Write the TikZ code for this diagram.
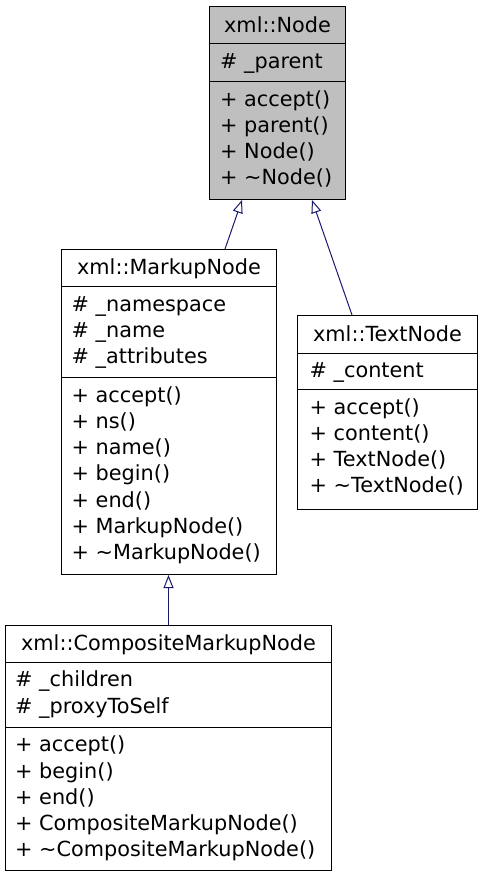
\documentclass[tikz,border=0pt]{standalone}
\usepackage{fontspec}
\setmainfont{DejaVu Sans}
\usetikzlibrary{arrows.meta,calc}
\definecolor{nodegrey}{HTML}{BFBFBF}
\definecolor{edgeblue}{HTML}{191970}
\newcommand\tld{\textasciitilde}
\begin{document}
\begin{tikzpicture}[x=1bp,y=1bp,
  classbox/.style={draw=black, line width=1bp, inner sep=0pt, anchor=north west, fill=white},
  sepline/.style={draw=black, line width=1bp},
  titletext/.style={anchor=base, inner sep=0pt, font=\fontsize{20.8bp}{26bp}\selectfont},
  membertext/.style={anchor=base west, inner sep=0pt, font=\fontsize{20.8bp}{26bp}\selectfont},
  inherit/.style={draw=edgeblue, line width=1bp, -{Triangle[open, length=13bp, width=10bp, fill=white]}}
]
\useasboundingbox (0,0) rectangle (483,-877);

% ---------- xml::Node ----------
\node[classbox, fill=nodegrey, minimum width=136bp, minimum height=193bp] (nd) at (209,-6) {};
\draw[sepline] ([yshift=-37bp]nd.north west) -- ([yshift=-37bp]nd.north east);
\draw[sepline] ([yshift=-75bp]nd.north west) -- ([yshift=-75bp]nd.north east);
\node[titletext] (nd-t) at ([yshift=-26bp]nd.north) {xml::Node};
\node[membertext] (nd-a1) at ([xshift=11bp,yshift=-62bp]nd.north west) {\# \_parent};
\node[membertext] (nd-m1) at ([xshift=11bp,yshift=-100bp]nd.north west) {+ accept()};
\node[membertext] (nd-m2) at ([xshift=11bp,yshift=-126.3bp]nd.north west) {+ parent()};
\node[membertext] (nd-m3) at ([xshift=11bp,yshift=-152.6bp]nd.north west) {+ Node()};
\node[membertext] (nd-m4) at ([xshift=11bp,yshift=-178.9bp]nd.north west) {+ \tld Node()};

% ---------- xml::MarkupNode ----------
\node[classbox, minimum width=215bp, minimum height=325bp] (mk) at (61,-249) {};
\draw[sepline] ([yshift=-37bp]mk.north west) -- ([yshift=-37bp]mk.north east);
\draw[sepline] ([yshift=-128bp]mk.north west) -- ([yshift=-128bp]mk.north east);
\node[titletext] (mk-t) at ([yshift=-25bp]mk.north) {xml::MarkupNode};
\node[membertext] (mk-a1) at ([xshift=10.5bp,yshift=-62bp]mk.north west) {\# \_namespace};
\node[membertext] (mk-a2) at ([xshift=10.5bp,yshift=-88.3bp]mk.north west) {\# \_name};
\node[membertext] (mk-a3) at ([xshift=10.5bp,yshift=-114.6bp]mk.north west) {\# \_attributes};
\node[membertext] (mk-m1) at ([xshift=10.5bp,yshift=-153bp]mk.north west) {+ accept()};
\node[membertext] (mk-m2) at ([xshift=10.5bp,yshift=-179.3bp]mk.north west) {+ ns()};
\node[membertext] (mk-m3) at ([xshift=10.5bp,yshift=-205.6bp]mk.north west) {+ name()};
\node[membertext] (mk-m4) at ([xshift=10.5bp,yshift=-231.9bp]mk.north west) {+ begin()};
\node[membertext] (mk-m5) at ([xshift=10.5bp,yshift=-258.2bp]mk.north west) {+ end()};
\node[membertext] (mk-m6) at ([xshift=10.5bp,yshift=-284.5bp]mk.north west) {+ MarkupNode()};
\node[membertext] (mk-m7) at ([xshift=10.5bp,yshift=-310.8bp]mk.north west) {+ \tld MarkupNode()};

% ---------- xml::TextNode ----------
\node[classbox, minimum width=180bp, minimum height=194bp] (tx) at (297,-315) {};
\draw[sepline] ([yshift=-38bp]tx.north west) -- ([yshift=-38bp]tx.north east);
\draw[sepline] ([yshift=-74bp]tx.north west) -- ([yshift=-74bp]tx.north east);
\node[titletext] (tx-t) at ([yshift=-26bp]tx.north) {xml::TextNode};
\node[membertext] (tx-a1) at ([xshift=12.5bp,yshift=-62bp]tx.north west) {\# \_content};
\node[membertext] (tx-m1) at ([xshift=12.5bp,yshift=-99bp]tx.north west) {+ accept()};
\node[membertext] (tx-m2) at ([xshift=12.5bp,yshift=-125.3bp]tx.north west) {+ content()};
\node[membertext] (tx-m3) at ([xshift=12.5bp,yshift=-151.6bp]tx.north west) {+ TextNode()};
\node[membertext] (tx-m4) at ([xshift=12.5bp,yshift=-177.9bp]tx.north west) {+ \tld TextNode()};

% ---------- xml::CompositeMarkupNode ----------
\node[classbox, minimum width=326bp, minimum height=245bp] (cm) at (5,-625) {};
\draw[sepline] ([yshift=-37bp]cm.north west) -- ([yshift=-37bp]cm.north east);
\draw[sepline] ([yshift=-102bp]cm.north west) -- ([yshift=-102bp]cm.north east);
\node[titletext] (cm-t) at ([yshift=-25bp]cm.north) {xml::CompositeMarkupNode};
\node[membertext] (cm-a1) at ([xshift=10bp,yshift=-61.7bp]cm.north west) {\# \_children};
\node[membertext] (cm-a2) at ([xshift=10bp,yshift=-88bp]cm.north west) {\# \_proxyToSelf};
\node[membertext] (cm-m1) at ([xshift=10bp,yshift=-126.7bp]cm.north west) {+ accept()};
\node[membertext] (cm-m2) at ([xshift=10bp,yshift=-153bp]cm.north west) {+ begin()};
\node[membertext] (cm-m3) at ([xshift=10bp,yshift=-179.3bp]cm.north west) {+ end()};
\node[membertext] (cm-m4) at ([xshift=10bp,yshift=-205.6bp]cm.north west) {+ CompositeMarkupNode()};
\node[membertext] (cm-m5) at ([xshift=10bp,yshift=-231.9bp]cm.north west) {+ \tld CompositeMarkupNode()};

% ---------- inheritance ----------
\draw[inherit] ([xshift=164bp]mk.north west) -- ([xshift=33bp]nd.south west);
\draw[inherit] ([xshift=55bp]tx.north west) -- ([xshift=103bp]nd.south west);
\draw[inherit] (cm.north) -- (cm.north |- mk.south);
\end{tikzpicture}
\end{document}
